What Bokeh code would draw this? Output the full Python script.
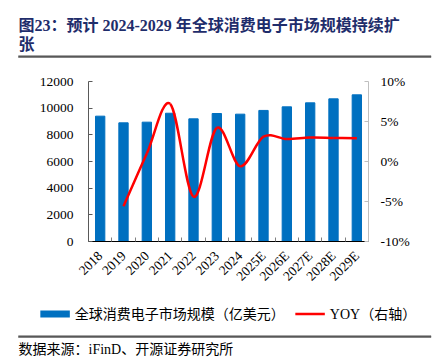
import math
from bokeh.plotting import figure
from bokeh.layouts import column
from bokeh.models import (Range1d, LinearAxis, FixedTicker, Legend, LegendItem, Title)
from bokeh.embed import file_html
from bokeh.resources import INLINE

# ---- data ----
years = ["2018", "2019", "2020", "2021", "2022", "2023", "2024",
         "2025E", "2026E", "2027E", "2028E", "2029E"]
market = [9400, 8900, 8950, 9620, 9200, 9600, 9550, 9830, 10100, 10400, 10700, 11000]
yoy_years = years[1:]
yoy = [-5.6, 1.0, 7.2, -4.4, 4.2, -0.6, 3.1, 2.8, 3.0, 2.95, 2.9]
left_ticks = [0, 2000, 4000, 6000, 8000, 10000, 12000]
right_ticks = [-10, -5, 0, 5, 10]

title1 = "图23：预计 2024-2029 年全球消费电子市场规模持续扩"
title2 = "张"
bar_label = "全球消费电子市场规模（亿美元）"
line_label = "YOY（右轴）"
source_text = "数据来源：iFinD、开源证券研究所"

SERIF = "Liberation Serif, Noto Sans CJK SC"
W = 434
FL, FT, FR, FB = 88, 81, 368, 241  # main frame edges in page px
HM = 292                           # main figure height
HF = 363 - HM                      # footer figure height


def clean(fig):
    fig.outline_line_color = None
    fig.grid.visible = False
    fig.background_fill_color = "white"
    fig.border_fill_color = "white"


def rule(standoff):
    # thin full-width grey rule: the filled box of a blank, very small title
    return Title(text="\u2003" * 275, text_font="DejaVu Sans", text_font_size="1.5px",
                 text_color="#595959", align="left", offset=18 - FL,
                 background_fill_color="#595959", border_line_color="#595959",
                 border_line_width=0.5, standoff=standoff)


def spacer(standoff):
    return Title(text=" ", text_font_size="1px", text_color="white", align="left",
                 standoff=standoff)


# ================= main chart =================
p = figure(width=W, height=HM, output_backend="svg", toolbar_location=None,
           x_range=Range1d(-0.5, len(years) - 0.5), y_range=Range1d(0, 12000),
           min_border_left=FL, min_border_right=W - FR, min_border_top=FT,
           min_border_bottom=HM - FB, title=None)
clean(p)
p.extra_y_ranges = {"yoy": Range1d(-10, 10)}

xi = list(range(len(years)))
p.vbar(x=xi, top=market, width=0.4, color="#0070C0")

# smoothed YOY line: Bezier segments through the data points
px = [years.index(y) for y in yoy_years]
py = yoy
n = len(px)
x0, y0, x1, y1, cx0, cy0, cx1, cy1 = [], [], [], [], [], [], [], []
for i in range(n - 1):
    pm = i - 1 if i > 0 else i
    pp = i + 2 if i + 2 < n else i + 1
    x0.append(px[i]); y0.append(py[i]); x1.append(px[i + 1]); y1.append(py[i + 1])
    cx0.append(px[i] + (px[i + 1] - px[pm]) / 6.0)
    cy0.append(py[i] + (py[i + 1] - py[pm]) / 6.0)
    cx1.append(px[i + 1] - (px[pp] - px[i]) / 6.0)
    cy1.append(py[i + 1] - (py[pp] - py[i]) / 6.0)
p.bezier(x0=x0, y0=y0, x1=x1, y1=y1, cx0=cx0, cy0=cy0, cx1=cx1, cy1=cy1,
         line_color="#FF0000", line_width=2.5, y_range_name="yoy")

# x axis
xa = p.xaxis[0]
xa.ticker = FixedTicker(ticks=xi, minor_ticks=[i - 0.5 for i in range(len(years) + 1)])
xa.major_label_overrides = {i: y for i, y in enumerate(years)}
xa.major_label_orientation = math.pi / 4
xa.major_tick_line_color = None
xa.minor_tick_in = 4
xa.minor_tick_out = 0
xa.minor_tick_line_color = "#808080"
xa.axis_line_color = "#000000"
xa.axis_line_width = 1.2
xa.major_label_text_font = SERIF
xa.major_label_text_font_size = "13.5px"
xa.major_label_text_color = "#000000"
xa.major_label_standoff = 6

# left axis
ya = p.yaxis[0]
ya.ticker = FixedTicker(ticks=left_ticks)
ya.minor_tick_line_color = None
ya.major_tick_in = 4
ya.major_tick_out = 0
ya.major_tick_line_color = "#595959"
ya.axis_line_color = "#595959"
ya.major_label_text_font = SERIF
ya.major_label_text_font_size = "13.5px"
ya.major_label_text_color = "#000000"
ya.major_label_standoff = 15

# right axis
ra = LinearAxis(y_range_name="yoy", ticker=FixedTicker(ticks=right_ticks))
ra.major_label_overrides = {t: f"{t}%" for t in right_ticks}
ra.minor_tick_line_color = None
ra.major_tick_in = 4
ra.major_tick_out = 0
ra.major_tick_line_color = "#BFBFBF"
ra.axis_line_color = "#BFBFBF"
ra.major_label_text_font = SERIF
ra.major_label_text_font_size = "13.5px"
ra.major_label_text_color = "#000000"
ra.major_label_standoff = 12
p.add_layout(ra, "right")

# header (from the frame outward): blank gap, rule, then the two title lines
p.add_layout(spacer(21), "above")
p.add_layout(rule(0), "above")
p.add_layout(Title(text=title2, text_font=SERIF, text_font_size="16px",
                   text_font_style="bold", text_color="#1F2D6B", align="left",
                   offset=18 - FL, standoff=1), "above")
p.add_layout(Title(text=title1, text_font=SERIF, text_font_size="16px",
                   text_font_style="bold", text_color="#1F2D6B", align="left",
                   offset=18 - FL, standoff=0), "above")

# ================= footer: legend, rule, source =================
pf = figure(width=W, height=HF, output_backend="svg", toolbar_location=None,
            x_range=Range1d(-0.5, len(years) - 0.5), y_range=Range1d(-10, 12000),
            x_axis_location=None, y_axis_location=None,
            min_border_left=FL, min_border_right=W - FR, min_border_top=HF - 8,
            min_border_bottom=7, title=None)
clean(pf)
leg_bar = pf.line(x=xi, y=market, line_color="#0070C0", line_width=7, visible=False)
leg_yoy = pf.line(x=px, y=yoy, line_color="#FF0000", line_width=2.5, visible=False)

# from the (tiny) footer frame outward: source, rule, legend
pf.add_layout(Title(text=source_text, text_font=SERIF, text_font_size="14px",
                    text_font_style="normal", text_color="#000000", align="left",
                    offset=18 - FL, standoff=0), "above")
pf.add_layout(rule(4), "above")
legend = Legend(items=[LegendItem(label=bar_label, renderers=[leg_bar]),
                       LegendItem(label=line_label, renderers=[leg_yoy])],
                orientation="horizontal", location="top_center",
                glyph_width=30, glyph_height=17, label_height=17,
                label_text_font=SERIF, label_text_font_size="14px",
                label_text_color="#000000", label_standoff=5, spacing=10,
                padding=0, margin=11, border_line_color=None,
                background_fill_alpha=0, inactive_fill_alpha=0)
pf.add_layout(legend, "above")

layout = column(p, pf, spacing=0)
open("out.html", "w").write(file_html(layout, INLINE))
